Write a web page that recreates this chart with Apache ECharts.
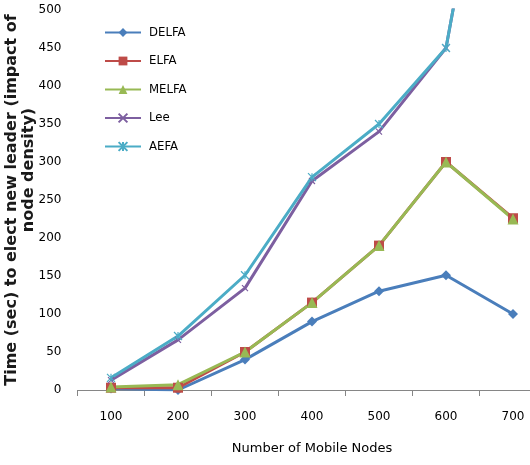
<!DOCTYPE html>
<html>
<head>
<meta charset="utf-8">
<script src="https://cdn.jsdelivr.net/npm/echarts@6/dist/echarts.min.js"></script>
<style>
  html, body { margin: 0; padding: 0; background: #ffffff; }
  #chart { width: 530px; height: 465px; }
</style>
</head>
<body>
<div id="chart"></div>
<script>
// Number of mobile nodes on the x axis
const nodes = ['100', '200', '300', '400', '500', '600', '700'];

// Time (sec) to elect a new leader for each scheme
const delfa = [2, 0, 40, 90, 130, 151, 100];
const elfa  = [3, 3, 50, 115, 190, 300, 226];
const melfa = [4, 7, 50, 115, 190, 300, 225];
const lee   = [13, 66, 134, 275, 340, 450, 930];
const aefa  = [16, 71, 151, 280, 350, 450, 930];

const yTicks = [0, 50, 100, 150, 200, 250, 300, 350, 400, 450, 500];

// y-axis title, wrapped onto two lines
const yTitle = ['Time (sec) to elect new leader (impact of', 'node density)'];

const font = 'DejaVu Sans';

// stroke-only marker shapes
const crossPath = 'path://M0,0L10,10M10,0L0,10';
const starPath = 'path://M0,0L10,10M10,0L0,10M5,0L5,10';

function lineSeries(name, data, color, symbol, size, strokeOnly) {
  return {
    name: name,
    type: 'line',
    data: data,
    symbol: symbol,
    symbolSize: size,
    clip: true,
    lineStyle: { color: color, width: 3 },
    itemStyle: strokeOnly
      ? { color: 'rgba(0,0,0,0)', borderColor: color, borderWidth: 1.2 }
      : { color: color, borderColor: color, borderWidth: 0 },
    emphasis: { disabled: true }
  };
}

function titleLine(text, x, y) {
  return {
    type: 'text',
    x: x,
    y: y,
    rotation: Math.PI / 2,
    silent: true,
    style: {
      text: text,
      fontFamily: font,
      fontSize: 16,
      fontWeight: 'bold',
      fill: '#1a1a1a',
      textAlign: 'center',
      textVerticalAlign: 'middle'
    }
  };
}

const chart = echarts.init(document.getElementById('chart'));
chart.setOption({
  animation: false,
  backgroundColor: '#ffffff',
  grid: { left: 77.5, right: -16.5, top: 10, bottom: 75, containLabel: false, outerBoundsMode: 'none' },
  graphic: [
    titleLine(yTitle[0], 12, 200),
    titleLine(yTitle[1], 28.5, 170)
  ],
  legend: {
    orient: 'vertical',
    left: 104,
    top: 26,
    padding: 0,
    itemWidth: 36,
    itemHeight: 11,
    itemGap: 15.5,
    textStyle: { fontFamily: 'DejaVu Sans Condensed, DejaVu Sans', fontSize: 13, color: '#000', padding: [0, 0, 0, 3] },
    data: ['DELFA', 'ELFA', 'MELFA', 'Lee', 'AEFA']
  },
  xAxis: {
    type: 'category',
    data: nodes,
    boundaryGap: true,
    axisLine: { lineStyle: { color: '#868686', width: 1 } },
    axisTick: { show: true, length: 6, lineStyle: { color: '#868686' } },
    axisLabel: { fontFamily: font, fontSize: 12, color: '#000', margin: 21 },
    name: 'Number of Mobile Nodes',
    nameLocation: 'middle',
    nameGap: 52,
    nameTextStyle: { fontFamily: font, fontSize: 13, color: '#000' },
    splitLine: { show: false }
  },
  yAxis: {
    type: 'value',
    min: yTicks[0],
    max: yTicks[yTicks.length - 1],
    interval: 50,
    axisLine: { show: false },
    axisTick: { show: false },
    splitLine: { show: false },
    axisLabel: { fontFamily: font, fontSize: 12, color: '#000', margin: 16 }
  },
  series: [
    lineSeries('DELFA', delfa, '#4a7ebb', 'diamond', 10),
    lineSeries('ELFA', elfa, '#be4b48', 'rect', 10),
    lineSeries('MELFA', melfa, '#98b954', 'triangle', 11),
    lineSeries('Lee', lee, '#7d5fa0', crossPath, 6, true),
    lineSeries('AEFA', aefa, '#4bacc6', starPath, 8, true)
  ]
});
</script>
</body>
</html>
